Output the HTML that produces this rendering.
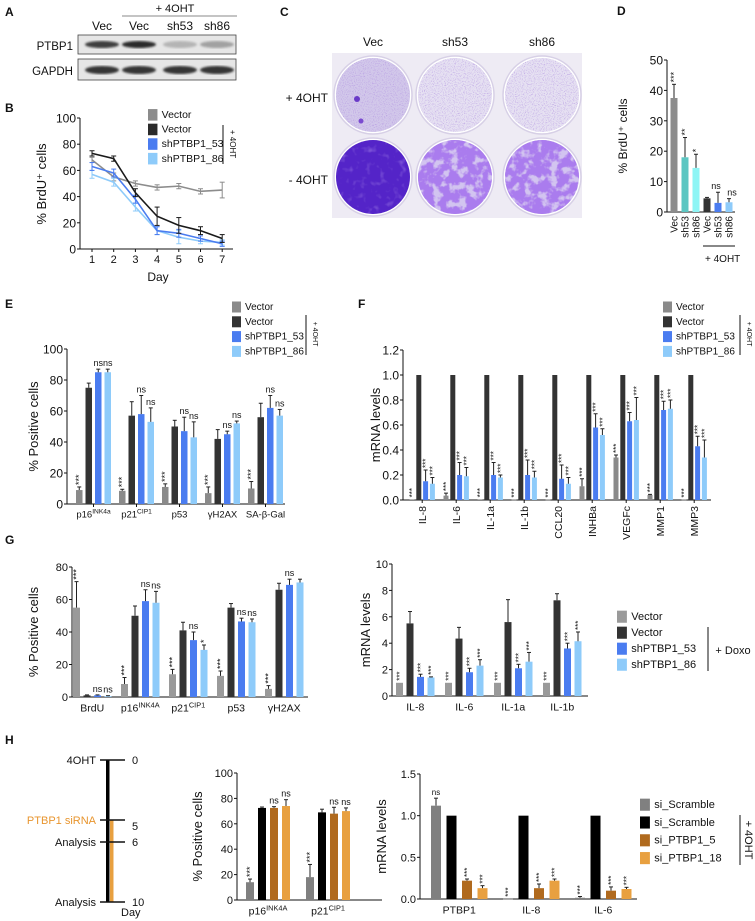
<!DOCTYPE html>
<html><head><meta charset="utf-8"><style>
body{margin:0;background:#fff;}
svg{display:block;font-family:"Liberation Sans",sans-serif;}
</style></head><body>
<svg id="fig" width="755" height="921" viewBox="0 0 755 921" xmlns="http://www.w3.org/2000/svg">
<defs>
<filter id="speck" x="0" y="0" width="100%" height="100%"><feTurbulence type="fractalNoise" baseFrequency="0.9" numOctaves="2" seed="3"/><feColorMatrix type="matrix" values="0 0 0 0 0.45 0 0 0 0 0.3 0 0 0 0 0.75 0 0 0 -3 1.5"/><feComposite in2="SourceGraphic" operator="in"/></filter>
<filter id="mottle" x="0" y="0" width="100%" height="100%"><feTurbulence type="fractalNoise" baseFrequency="0.12" numOctaves="3" seed="7"/><feColorMatrix type="matrix" values="0 0 0 0 0.4 0 0 0 0 0.2 0 0 0 0 0.85 0 0 0 5 -1.6"/><feComposite in2="SourceGraphic" operator="in"/></filter>
<filter id="mottle2" x="0" y="0" width="100%" height="100%"><feTurbulence type="fractalNoise" baseFrequency="0.15" numOctaves="2" seed="11"/><feColorMatrix type="matrix" values="0 0 0 0 0.55 0 0 0 0 0.4 0 0 0 0 0.9 0 0 0 2 -1.1"/><feComposite in2="SourceGraphic" operator="in"/></filter>
<filter id="blur1"><feGaussianBlur stdDeviation="1"/></filter>
</defs>
<g id="root"></g>
</svg>
<script>
// ---------- data ----------
const bDays=[1,2,3,4,5,6,7];
const bVec=[68,55,50,47,48,44,45], bVecE=[2,3,2,2,2,2,6];
const bVecOHT=[73,69,43,25,18,14,8], bVecOHTE=[2,2,3,7,6,3,3];
const b53=[63,58,38,14,12,8,4], b53E=[3,3,3,3,3,2,2];
const b86=[57,51,32,14,9,6,5], b86E=[3,3,3,3,5,2,2];
const bTicks=[0,20,40,60,80,100];

const dCats=['Vec','sh53','sh86','Vec','sh53','sh86'];
const dVals=[37.5,18,14.5,4.5,3,3.2], dErr=[4.5,6.5,4.5,0.3,3.5,1.2];
const dAnn=['***','**','*','','ns','ns'];
const dTicks=[0,10,20,30,40,50];

const eCats=['p16|INK4a','p21|CIP1','p53','γH2AX','SA-β-Gal'];
const eGray=[9,8.5,11,7,10], eGrayE=[2,1,2,4,4.5];
const eBlack=[75,57,50,42,56], eBlackE=[3,9,4,6,9];
const eBlue=[85,58,47,45,62], eBlueE=[2,12,9,2,8];
const eLight=[85,53,43,52,57], eLightE=[2,9,10,1.5,4];
const eTicks=[0,20,40,60,80,100];

const fCats=['IL-8','IL-6','IL-1a','IL-1b','CCL20','INHBa','VEGFc','MMP1','MMP3'];
const fGray=[0.005,0.035,0.005,0.003,0.003,0.11,0.34,0.04,0.003], fGrayE=[0,0.02,0,0,0,0.06,0.02,0.005,0];
const fBlack=[1,1,1,1,1,1,1,1,1], fBlackE=[0,0,0,0,0,0,0,0,0];
const fBlue=[0.15,0.2,0.2,0.2,0.17,0.58,0.63,0.72,0.43], fBlueE=[0.09,0.1,0.1,0.12,0.11,0.11,0.07,0.07,0.08];
const fLight=[0.13,0.19,0.18,0.18,0.13,0.52,0.64,0.73,0.34], fLightE=[0.05,0.07,0.02,0.05,0.05,0.05,0.18,0.07,0.14];
const fTicks=[0,0.2,0.4,0.6,0.8,1.0,1.2];

const gCats=['BrdU','p16|INK4A','p21|CIP1','p53','γH2AX'];
const gGray=[55,8,14,13,5], gGrayE=[16,4,3,3,2];
const gBlack=[1,50,41,55,66], gBlackE=[0.3,6,5,2.5,4];
const gBlue=[1,59,35,46.5,69], gBlueE=[0.3,7,5,2,3.5];
const gLight=[0.5,58,29,46,70.5], gLightE=[0.3,7,3,2,2];
const gTicks=[0,20,40,60,80];

const g2Cats=['IL-8','IL-6','IL-1a','IL-1b'];
const g2Gray=[1,1,1,1], g2GrayE=[0,0,0,0];
const g2Black=[5.5,4.35,5.6,7.25], g2BlackE=[0.9,0.85,1.7,0.5];
const g2Blue=[1.45,1.8,2.1,3.6], g2BlueE=[0.2,0.3,0.3,0.4];
const g2Light=[1.4,2.3,2.6,4.15], g2LightE=[0.05,0.45,0.7,0.7];
const g2Ticks=[0,2,4,6,8,10];

const hCats=['p16|INK4A','p21|CIP1'];
const hGray=[14,18], hGrayE=[2.5,10];
const hBlack=[72.5,69], hBlackE=[0.7,2.5];
const hBrown=[72.5,68], hBrownE=[1,5];
const hOrange=[74,70], hOrangeE=[5,2.5];
const hTicks=[0,20,40,60,80,100];

const h2Cats=['PTBP1','IL-8','IL-6'];
const h2Gray=[1.12,0.003,0.015], h2GrayE=[0.09,0,0.015];
const h2Black=[1,1,1], h2BlackE=[0,0,0];
const h2Brown=[0.22,0.13,0.1], h2BrownE=[0.02,0.05,0.045];
const h2Orange=[0.13,0.22,0.12], h2OrangeE=[0.03,0.02,0.02];
const h2Ticks=[0,0.5,1.0,1.5];

// ---------- helpers ----------
const NS='http://www.w3.org/2000/svg';
const root=document.getElementById('root');
function mk(tag,attrs,parent,txt){const e=document.createElementNS(NS,tag);for(const k in attrs)e.setAttribute(k,attrs[k]);if(txt!==undefined)e.textContent=txt;(parent||root).appendChild(e);return e;}
function grp(name,parent){const g=mk('g',{},parent);


return g;}
function txt(p,x,y,s,size,opts){opts=opts||{};const t=mk('text',{x:x,y:y,'font-size':size,'text-anchor':opts.anchor||'start',fill:opts.fill||'#111','font-weight':opts.bold?'bold':'normal'},p);
if(opts.rot){t.setAttribute('transform','rotate('+opts.rot+' '+x+' '+y+')');}
const parts=s.split('|');t.appendChild(document.createTextNode(parts[0]));
if(parts[1]){const ts=mk('tspan',{'font-size':size*0.7,dy:-size*0.4},t,parts[1]);}
return t;}
function line(p,x1,y1,x2,y2,w,c){return mk('line',{x1:x1,y1:y1,x2:x2,y2:y2,stroke:c||'#111','stroke-width':w||1},p);}
function panelLabel(l,x,y){const t=txt(root,x,y,l,12,{bold:true});

}

function legend(p,x,y,dy,labels,colors,size,bracket){
  const g=grp('legend',p);
  labels.forEach((l,i)=>{const e=grp('legend-entry',g);
    mk('rect',{x:x,y:y+i*dy-size*0.85,width:size*0.9,height:size*1.1,fill:colors[i]},e);
    txt(e,x+size*1.3,y+i*dy,l,size);});
  if(bracket){line(g,bracket.x,bracket.y1,bracket.x,bracket.y2,1);
    txt(g,bracket.tx,bracket.ty,bracket.t,bracket.size||9,{anchor:'middle',rot:bracket.rot});}
  return g;}

function barChart(o){
  const g=grp(o.name);
  const sy=v=>o.y0-(v/o.max)*(o.y0-o.yTop);
  const ax=grp('y-axis',g);
  line(ax,o.x0,o.yTop,o.x0,o.y0,1);
  o.ticks.forEach(t=>{line(ax,o.x0-3,sy(t),o.x0,sy(t),1);
    txt(ax,o.x0-4,sy(t)+o.tf*0.36,o.fmt?o.fmt(t):String(t),o.tf,{anchor:'end'});});
  const xa=grp('x-axis',g);
  line(xa,o.x0,o.y0,o.xEnd,o.y0,1);
  const ns=o.series.length;
  o.cats.forEach((c,i)=>{
    const gx=o.gs+i*o.gstep;const cx=gx+((ns-1)*o.bstep+o.bw)/2;
    if(o.catTick)line(xa,cx,o.y0,cx,o.y0+3,1);
    if(o.catRot){txt(xa,cx+o.cf*0.35,o.y0+6,c,o.cf,{anchor:'end',rot:-90});}
    else txt(xa,cx,o.y0+o.cf+4,c,o.cf,{anchor:'middle'});
    o.series.forEach((s,j)=>{
      const bx=gx+j*o.bstep;const v=s[i],e=o.errs[j][i];
      const b=mk('rect',{x:bx,y:sy(v),width:o.bw,height:Math.max(0.6,o.y0-sy(v)),fill:o.colors[j]},g);
      
      
      if(e>0){const mx=bx+o.bw/2;line(g,mx,sy(v),mx,sy(v+e),1,'#222');line(g,mx-2,sy(v+e),mx+2,sy(v+e),1,'#222');}
      const a=o.ann?o.ann[j][i]:'';
      if(a){const top=sy(v+e)-2;
        if(a==='ns')txt(g,bx+o.bw/2,top-1,'ns',o.af,{anchor:'middle'});
        else txt(g,bx+o.bw/2+3,top,a,o.af,{anchor:'start',rot:-90});}
    });});
  if(o.ytitle){const cy=(o.yTop+o.y0)/2;txt(g,o.tx,cy,o.ytitle,o.ytf||13,{anchor:'middle',rot:-90});}
  return g;}

// ---------- Panel A ----------
panelLabel('A',5,16);
(function(){const g=grp('western-blot');
  txt(g,175,12,'+ 4OHT',11,{anchor:'middle'});line(g,122,16,237,16,1,'#888');
  [['Vec',102],['Vec',139],['sh53',180],['sh86',217]].forEach(l=>txt(g,l[1],30,l[0],12,{anchor:'middle'}));
  txt(g,73,50,'PTBP1',11.5,{anchor:'end'});txt(g,73,75,'GAPDH',11.5,{anchor:'end'});
  mk('rect',{x:78,y:35,width:158,height:19,fill:'#e6e6e6',stroke:'#444','stroke-width':0.8},g);
  mk('rect',{x:78,y:59,width:158,height:21,fill:'#e6e6e6',stroke:'#444','stroke-width':0.8},g);
  const p=[[102,0.85],[139,0.95],[180,0.25],[217,0.35]];
  p.forEach(b=>{mk('ellipse',{cx:b[0],cy:44.5,rx:17,ry:3.5,fill:'#222',opacity:b[1],filter:'url(#blur1)'},g);
    mk('ellipse',{cx:b[0],cy:70,rx:17,ry:4,fill:'#222',opacity:0.9,filter:'url(#blur1)'},g);});
})();

// ---------- Panel B ----------
panelLabel('B',5,112);
(function(){const g=grp('line-chart-b');
  const x0=80,y0=249,yT=118,sx=d=>92+(d-1)*21.7,sy=v=>y0-v/100*(y0-yT);
  line(g,x0,yT,x0,y0);line(g,x0,y0,233,y0);
  bTicks.forEach(t=>{line(g,x0-3,sy(t),x0,sy(t));txt(g,x0-4,sy(t)+4.5,String(t),12,{anchor:'end'});});
  bDays.forEach(d=>{line(g,sx(d),y0,sx(d),y0+3);txt(g,sx(d),y0+14,String(d),11,{anchor:'middle'});});
  txt(g,158,281,'Day',12,{anchor:'middle'});
  txt(g,46,184,'% BrdU⁺ cells',13,{anchor:'middle',rot:-90});
  const S=[[bVec,bVecE,'#8c8c8c'],[b86,b86E,'#8ecbfa'],[b53,b53E,'#4a7cf0'],[bVecOHT,bVecOHTE,'#1a1a1a']];
  S.forEach(s=>{const sg=grp('series-line',g);
    mk('polyline',{points:bDays.map((d,i)=>sx(d)+','+sy(s[0][i])).join(' '),fill:'none',stroke:s[2],'stroke-width':1.6},sg);
    bDays.forEach((d,i)=>{const x=sx(d);line(sg,x,sy(s[0][i]-s[1][i]),x,sy(s[0][i]+s[1][i]),1,s[2]);
      line(sg,x-2.5,sy(s[0][i]+s[1][i]),x+2.5,sy(s[0][i]+s[1][i]),1,s[2]);line(sg,x-2.5,sy(s[0][i]-s[1][i]),x+2.5,sy(s[0][i]-s[1][i]),1,s[2]);});});
  legend(g,148,118,14.6,['Vector','Vector','shPTBP1_53','shPTBP1_86'],['#8c8c8c','#2a2a2a','#4a7cf0','#8ecbfa'],10.5,{x:223,y1:125,y2:164,tx:230,ty:144,t:'+ 4OHT',rot:90,size:8});
})();

// ---------- Panel C ----------
panelLabel('C',280,16);
(function(){const g=grp('colony-plates');
  [['Vec',373],['sh53',455],['sh86',542]].forEach(l=>txt(g,l[1],46,l[0],12,{anchor:'middle'}));
  txt(g,328,102,'+ 4OHT',12,{anchor:'end'});txt(g,328,184,'- 4OHT',12,{anchor:'end'});
  mk('rect',{x:332,y:53,width:250,height:165,fill:'#eeebf4'},g);
  const cx=[373,455,542];
  cx.forEach((x,i)=>{
    mk('circle',{cx:x,cy:95,r:39,fill:'#fff',stroke:'#d7d0e6','stroke-width':1.5},g);
    mk('circle',{cx:x,cy:95,r:37,fill:i===0?'#d2c8ea':'#e6e1f2'},g);
    mk('circle',{cx:x,cy:95,r:37,fill:'#fff',filter:'url(#speck)',opacity:0.8},g);
    mk('circle',{cx:x,cy:177,r:39,fill:'#fff',stroke:'#d7d0e6','stroke-width':1.5},g);
    mk('circle',{cx:x,cy:177,r:37,fill:i===0?'#5424c8':'#d2c4f0'},g);
    if(i>0)mk('circle',{cx:x,cy:177,r:37,fill:'#fff',filter:'url(#mottle)'},g);
    else mk('circle',{cx:x,cy:177,r:37,fill:'#fff',filter:'url(#mottle2)',opacity:0.5},g);
  });
  mk('circle',{cx:357,cy:99,r:3,fill:'#6a3ac8'},g);mk('circle',{cx:361,cy:121,r:2.5,fill:'#7a4ad0'},g);
})();

// ---------- Panel D ----------
panelLabel('D',617,15);
(function(){const g=grp('bar-chart-d');
  const x0=667,y0=212,yT=60,sy=v=>y0-v/50*(y0-yT);
  line(g,x0,yT,x0,y0);line(g,x0,y0,735,y0);
  dTicks.forEach(t=>{line(g,x0-3,sy(t),x0,sy(t));txt(g,x0-4,sy(t)+4.5,String(t),12,{anchor:'end'});});
  const cols=['#8c8c8c','#5cc6c2','#8ef5f5','#333333','#4a7cf0','#8ecbfa'];
  dCats.forEach((c,i)=>{const bx=670.5+i*11;
    const b=mk('rect',{x:bx,y:sy(dVals[i]),width:7,height:y0-sy(dVals[i]),fill:cols[i]},g);
    
    
    const mx=bx+3.5,t=sy(dVals[i]+dErr[i]);line(g,mx,sy(dVals[i]),mx,t,1,'#222');line(g,mx-2,t,mx+2,t,1,'#222');
    const a=dAnn[i];if(a==='ns')txt(g,mx+(i===4?-2:3),t-3,'ns',9,{anchor:'middle'});else if(a)txt(g,mx+3,t-2,a,9,{rot:-90});
    txt(g,mx+3.5,y0+4,c,10,{anchor:'end',rot:-90});});
  line(g,703,246,735,246);txt(g,705,262,'+ 4OHT',10);
  txt(g,627,136,'% BrdU⁺ cells',12,{anchor:'middle',rot:-90});
})();

// ---------- Panel E ----------
panelLabel('E',5,308);
const cBlue=['#8a8a8a','#333333','#4a7cf0','#8ecbfa'];
barChart({name:'bar-chart-e',x0:67,y0:504,yTop:349,max:100,ticks:eTicks,tf:12,xEnd:285,gs:76,gstep:43,bstep:9.5,bw:6.5,
  series:[eGray,eBlack,eBlue,eLight],errs:[eGrayE,eBlackE,eBlueE,eLightE],colors:cBlue,cats:eCats,cf:9.5,catTick:true,
  ann:[['***','***','***','***','***'],['','','','',''],['ns','ns','ns','ns','ns'],['ns','ns','ns','ns','ns']],af:9,ytitle:'% Positive cells',tx:38,ytf:13});
legend(root,232,310,14.8,['Vector','Vector','shPTBP1_53','shPTBP1_86'],['#8a8a8a','#333333','#4a7cf0','#8ecbfa'],10,{x:306,y1:315,y2:355,tx:313,ty:334,t:'+ 4OHT',rot:90,size:7});

// ---------- Panel F ----------
panelLabel('F',358,308);
barChart({name:'bar-chart-f',x0:403,y0:500,yTop:350,max:1.2,ticks:fTicks,tf:12,fmt:t=>t.toFixed(1),xEnd:711,gs:409.5,gstep:34,bstep:6.8,bw:5,
  series:[fGray,fBlack,fBlue,fLight],errs:[fGrayE,fBlackE,fBlueE,fLightE],colors:cBlue,cats:fCats,cf:10.5,catRot:true,catTick:true,
  ann:[fCats.map(()=>'***'),fCats.map(()=>''),fCats.map(()=>'***'),fCats.map(()=>'***')],af:8,ytitle:'mRNA levels',tx:380,ytf:13});
legend(root,663,310,14.8,['Vector','Vector','shPTBP1_53','shPTBP1_86'],['#8a8a8a','#333333','#4a7cf0','#8ecbfa'],10,{x:740,y1:315,y2:355,tx:747,ty:334,t:'+ 4OHT',rot:90,size:7});

// ---------- Panel G ----------
panelLabel('G',5,544);
const cG=['#9a9a9a','#333333','#4a7cf0','#8ecbfa'];
barChart({name:'bar-chart-g-left',x0:72,y0:697,yTop:567,max:80,ticks:gTicks,tf:11,xEnd:308,gs:73,gstep:48,bstep:10.5,bw:7,
  series:[gGray,gBlack,gBlue,gLight],errs:[gGrayE,gBlackE,gBlueE,gLightE],colors:cG,cats:gCats,cf:10.5,
  ann:[['***','***','***','***','***'],['','','','',''],['ns','ns','ns','ns','ns'],['ns','ns','*','ns','']],af:9,ytitle:'% Positive cells',tx:38,ytf:13});
barChart({name:'bar-chart-g-right',x0:392,y0:696,yTop:564,max:10,ticks:g2Ticks,tf:11,xEnd:588,gs:396,gstep:49,bstep:10.5,bw:7,
  series:[g2Gray,g2Black,g2Blue,g2Light],errs:[g2GrayE,g2BlackE,g2BlueE,g2LightE],colors:cG,cats:g2Cats,cf:10.5,
  ann:[g2Cats.map(()=>'***'),g2Cats.map(()=>''),g2Cats.map(()=>'***'),g2Cats.map(()=>'***')],af:8,ytitle:'mRNA levels',tx:370,ytf:13});
legend(root,617,620,16,['Vector','Vector','shPTBP1_53','shPTBP1_86'],cG,11,{x:708,y1:627,y2:671,tx:733,ty:654,t:'+ Doxo',size:11});

// ---------- Panel H ----------
panelLabel('H',5,744);
(function(){const g=grp('timeline');
  mk('rect',{x:110,y:820,width:3.5,height:82,fill:'#e8a040'},g);
  mk('rect',{x:106,y:760,width:3.5,height:142,fill:'#000'},g);
  [[760,'0','4OHT','#111'],[820,'5','PTBP1 siRNA','#e8952e'],[842,'6','Analysis','#111'],[902,'10','Analysis','#111']].forEach(t=>{
    line(g,100,t[0],125,t[0],1.5);txt(g,132,t[0]+(t[1]==='5'?10:4),t[1],11);
    txt(g,96,t[0]+4,t[2],11,{anchor:'end',fill:t[3]});});
  txt(g,121,916,'Day',11);
})();
const cH=['#808080','#000000','#b06a1e','#e8a040'];
barChart({name:'bar-chart-h-left',x0:237,y0:900,yTop:773,max:100,ticks:hTicks,tf:11,xEnd:382,gs:246,gstep:60,bstep:12,bw:8,
  series:[hGray,hBlack,hBrown,hOrange],errs:[hGrayE,hBlackE,hBrownE,hOrangeE],colors:cH,cats:hCats,cf:10.5,
  ann:[['***','***'],['',''],['ns','ns'],['ns','ns']],af:9,ytitle:'% Positive cells',tx:202,ytf:13});
barChart({name:'bar-chart-h-right',x0:420,y0:899,yTop:774,max:1.5,ticks:h2Ticks,tf:11,fmt:t=>t.toFixed(1),xEnd:637,gs:431,gstep:72,bstep:15.5,bw:10,
  series:[h2Gray,h2Black,h2Brown,h2Orange],errs:[h2GrayE,h2BlackE,h2BrownE,h2OrangeE],colors:cH,cats:h2Cats,cf:10.5,
  ann:[['ns','***','***'],['','',''],['***','***','***'],['***','***','***']],af:8,ytitle:'mRNA levels',tx:386,ytf:13});
legend(root,640,808,17.8,['si_Scramble','si_Scramble','si_PTBP1_5','si_PTBP1_18'],cH,11,{x:740,y1:815,y2:865,tx:745,ty:840,t:'+ 4OHT',rot:90,size:11});
</script>
</body></html>
